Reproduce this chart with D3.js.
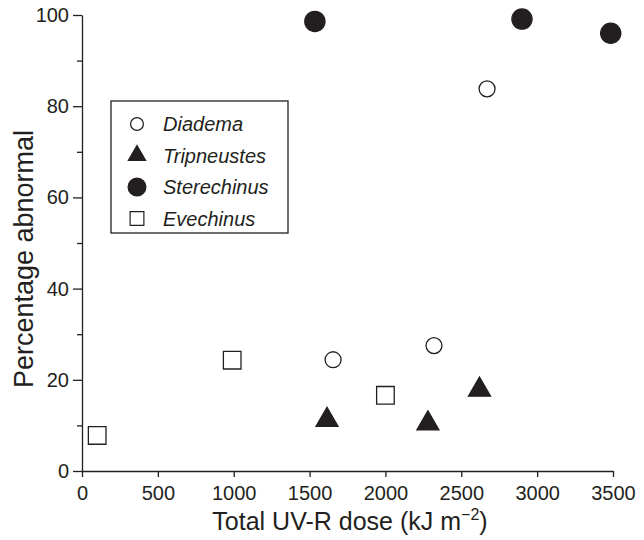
<!DOCTYPE html>
<html>
<head>
<meta charset="utf-8">
<script src="https://cdn.jsdelivr.net/npm/d3@7"></script>
<style>
  body { margin: 0; background: #fff; }
  svg { display: block; font-family: "Liberation Sans", Arial, sans-serif; }
  .axis path, .axis line { stroke: #231f20; stroke-width: 1.3; }
  .axis text { font-size: 20px; fill: #231f20; }
</style>
</head>
<body>
<div id="chart"></div>
<script>
// Species in legend order
const species = ["Diadema", "Tripneustes", "Sterechinus", "Evechinus"];

// [dose kJ m-2, percentage abnormal]
const diadema = [[1655, 24.4], [2320, 27.5], [2670, 83.8]];
const tripneustes = [[1615, 11.2], [2280, 10.4], [2620, 17.8]];
const sterechinus = [[1535, 98.6], [2900, 99.1], [3485, 96.0]];
const evechinus = [[100, 7.8], [990, 24.3], [2000, 16.6]];

const xTicks = [0, 500, 1000, 1500, 2000, 2500, 3000, 3500];
const yTicks = [0, 20, 40, 60, 80, 100];
const yMinorTicks = [10, 30, 50, 70, 90];

const width = 644, height = 540;
const margin = {top: 15, right: 31, bottom: 69, left: 82};
const ink = "#231f20";

const svg = d3.select("#chart").append("svg")
  .attr("width", width)
  .attr("height", height);

const x = d3.scaleLinear().domain([0, 3500]).range([margin.left, width - margin.right]);
const y = d3.scaleLinear().domain([0, 100]).range([height - margin.bottom, margin.top]);

// minor y ticks first, so the main axis sits on top
svg.append("g")
  .attr("class", "axis")
  .attr("transform", `translate(${margin.left},0)`)
  .call(d3.axisLeft(y).tickValues(yMinorTicks).tickSize(5).tickFormat(""))
  .call(g => g.select(".domain").remove());

svg.append("g")
  .attr("class", "axis")
  .attr("transform", `translate(${margin.left},0)`)
  .call(d3.axisLeft(y).tickValues(yTicks).tickSize(9).tickSizeOuter(0).tickPadding(4));

svg.append("g")
  .attr("class", "axis")
  .attr("transform", `translate(0,${height - margin.bottom})`)
  .call(d3.axisBottom(x).tickValues(xTicks).tickFormat(d3.format("d"))
    .tickSize(6).tickSizeOuter(0).tickPadding(9));

// axis titles
svg.append("text")
  .attr("x", 350)
  .attr("y", 530)
  .attr("text-anchor", "middle")
  .attr("font-size", 25)
  .attr("fill", ink)
  .call(t => {
    t.append("tspan").text("Total UV-R dose (kJ m");
    t.append("tspan").attr("dy", -10).attr("font-size", 16).text("\u22122");
    t.append("tspan").attr("dy", 10).text(")");
  });

svg.append("text")
  .attr("transform", "translate(33,259) rotate(-90)")
  .attr("text-anchor", "middle")
  .attr("font-size", 27)
  .attr("fill", ink)
  .text("Percentage abnormal");

// marker drawing per species
const markers = {
  Diadema: {shape: d3.symbolCircle, size: 200, fill: "#fff", legendSize: 130},
  Tripneustes: {shape: d3.symbolTriangle, size: 210, fill: ink, legendSize: 130},
  Sterechinus: {shape: d3.symbolCircle, size: 320, fill: ink, legendSize: 250},
  Evechinus: {shape: d3.symbolSquare, size: 310, fill: "#fff", legendSize: 190}
};
const seriesData = {Diadema: diadema, Tripneustes: tripneustes, Sterechinus: sterechinus, Evechinus: evechinus};

species.forEach(name => {
  const m = markers[name];
  svg.append("g").selectAll("path")
    .data(seriesData[name])
    .join("path")
    .attr("transform", d => `translate(${x(d[0])},${y(d[1])})`)
    .attr("d", d3.symbol().type(m.shape).size(m.size))
    .attr("fill", m.fill)
    .attr("stroke", ink)
    .attr("stroke-width", 1.3);
});

// legend
const legend = svg.append("g").attr("transform", "translate(111,101)");
legend.append("rect")
  .attr("width", 177).attr("height", 132)
  .attr("fill", "#fff").attr("stroke", ink).attr("stroke-width", 1.3);

const rows = legend.selectAll("g.row")
  .data(species)
  .join("g")
  .attr("class", "row")
  .attr("transform", (d, i) => `translate(26,${23 + i * 31.5})`);

rows.append("path")
  .attr("d", d => d3.symbol().type(markers[d].shape).size(markers[d].legendSize)())
  .attr("fill", d => markers[d].fill)
  .attr("stroke", ink)
  .attr("stroke-width", 1.2);

rows.append("text")
  .attr("x", 26)
  .attr("dy", "0.35em")
  .attr("font-size", 20)
  .attr("font-style", "italic")
  .attr("fill", ink)
  .text(d => d);
</script>
</body>
</html>
